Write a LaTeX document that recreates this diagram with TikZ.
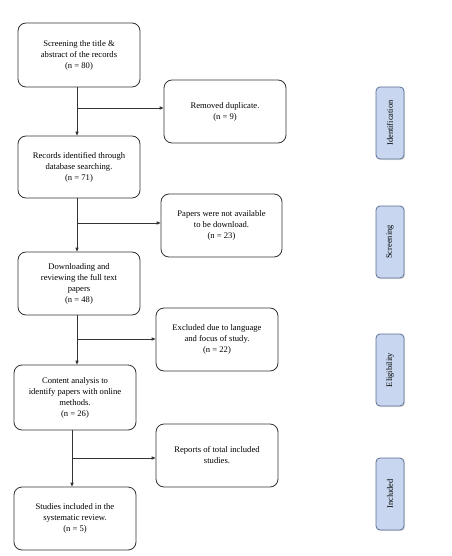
\documentclass[tikz,border=0pt]{standalone}
\usepackage{fontspec}
\setmainfont[Ligatures=NoCommon]{Liberation Serif}
\usetikzlibrary{arrows.meta,shadows,calc}
\definecolor{boxline}{HTML}{333333}
\definecolor{sidefill}{HTML}{C8D7EF}
\definecolor{sideline}{HTML}{5B6E93}
\begin{document}
\begin{tikzpicture}[x=1pt,y=-1pt,
  mainbox/.style={draw=boxline,line width=0.8pt,rounded corners=8pt,fill=white,
    minimum width=122pt,minimum height=63pt,align=center,inner sep=2pt,
    font=\fontsize{8.6}{11}\selectfont},
  sidebox/.style={draw=sideline,line width=0.8pt,rounded corners=4pt,fill=sidefill,
    minimum width=72pt,minimum height=28pt,rotate=90,inner sep=1pt,
    font=\fontsize{8.4}{10}\selectfont,
    drop shadow={opacity=0.25,shadow xshift=1pt,shadow yshift=-1.2pt}},
  flow/.style={draw=boxline,line width=0.8pt,-{Triangle[length=4pt,width=3.2pt]}}]
\useasboundingbox (0,0) rectangle (451,556);
\node[mainbox,minimum height=64pt] (b1) at (79,55) {Screening the title \&\\abstract of the records\\(n = 80)};
\node[mainbox,minimum height=62pt] (b2) at (79,167) {Records identified through\\database searching.\\(n = 71)};
\node[mainbox] (b3) at (79,283.5) {Downloading and\\reviewing the full text\\papers\\(n = 48)};
\node[mainbox,minimum height=65pt] (b4) at (75,397.5) {Content analysis to\\identify papers with online\\methods.\\(n = 26)};
\node[mainbox] (b5) at (75,518.5) {Studies included in the\\systematic review.\\(n = 5)};
\node[mainbox] (r1) at (225,111.5) {Removed duplicate.\\(n = 9)};
\node[mainbox,minimum width=121pt] (r2) at (221.5,225.5) {Papers were not available\\to be download.\\(n = 23)};
\node[mainbox] (r3) at (217,339.5) {Excluded due to language\\and focus of study.\\(n = 22)};
\node[mainbox] (r4) at (217,455.5) {Reports of total included\\studies.};
\node[sidebox] (s1) at (390,123) {Identification};
\node[sidebox] (s2) at (390,242) {Screening};
\node[sidebox] (s3) at (390,370) {Eligibility};
\node[sidebox] (s4) at (390,494) {Included};
% vertical flow
\coordinate (t1) at ($(b1.south)+(-2,0)$);
\coordinate (t2) at ($(b2.south)+(-2,0)$);
\coordinate (t3) at ($(b3.south)+(-2,0)$);
\coordinate (t4) at ($(b4.south)+(-3,0)$);
\draw[flow] (t1) -- (t1 |- b2.north);
\draw[flow] (t2) -- (t2 |- b3.north);
\draw[flow] (t3) -- (t3 |- b4.north);
\draw[flow] (t4) -- (t4 |- b5.north);
% branches
\coordinate (c1) at (77,108);
\coordinate (c2) at (77,223);
\coordinate (c3) at (77,339);
\coordinate (c4) at (72,458);
\draw[flow] (c1) -- (c1 -| r1.west);
\draw[flow] (c2) -- (c2 -| r2.west);
\draw[flow] (c3) -- (c3 -| r3.west);
\draw[flow] (c4) -- (c4 -| r4.west);
\end{tikzpicture}
\end{document}
